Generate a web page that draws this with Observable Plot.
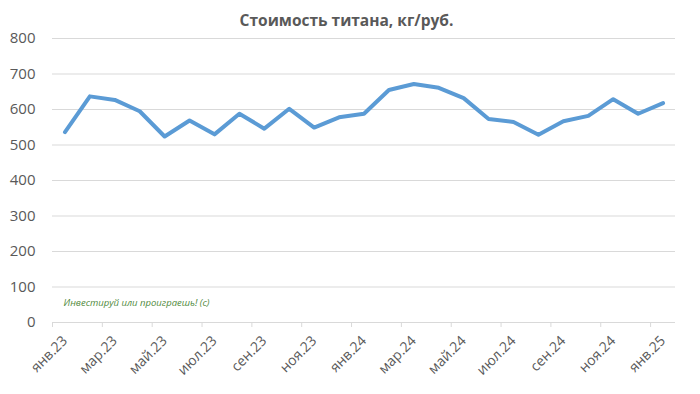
<!DOCTYPE html>
<html>
<head>
<meta charset="utf-8">
<script src="https://cdn.jsdelivr.net/npm/d3@7"></script>
<script src="https://cdn.jsdelivr.net/npm/@observablehq/plot@0.6"></script>
<style>
  body { margin: 0; background: #fff; font-family: "Open Sans", sans-serif; }
  #title { height: 22px; line-height: 22px; position: relative; top: 9px; text-align: center; padding-right: 7px;
           font-weight: bold; font-size: 15.5px; color: #595959; }
</style>
</head>
<body>
<div id="title">Стоимость титана, кг/руб.</div>
<div id="chart"></div>
<script>
const months = ["янв.23","фев.23","мар.23","апр.23","май.23","июн.23","июл.23","авг.23","сен.23","окт.23","ноя.23","дек.23",
                "янв.24","фев.24","мар.24","апр.24","май.24","июн.24","июл.24","авг.24","сен.24","окт.24","ноя.24","дек.24","янв.25"];
const prices = [536, 637, 627, 595, 524, 569, 530, 588, 546, 602, 549, 578,
                588, 655, 672, 661, 632, 573, 565, 529, 567, 582, 629, 588, 618];
const yTicks = [0, 100, 200, 300, 400, 500, 600, 700, 800];
const watermark = "Инвестируй или проиграешь! (с)";

const data = months.map((m, i) => ({i, m, v: prices[i]}));
const labelIdx = months.map((m, i) => i).filter(i => i % 2 === 0);
const edgeIdx = labelIdx.map(i => i - 0.5);

const chart = Plot.plot({
  width: 700,
  height: 372,
  marginLeft: 52,
  marginRight: 25,
  marginTop: 16,
  marginBottom: 72,
  style: {fontFamily: "Open Sans, sans-serif", color: "#595959", background: "#fff"},
  x: {domain: [-0.5, months.length - 0.5]},
  y: {domain: [0, 800]},
  marks: [
    Plot.gridY(yTicks.slice(1), {stroke: "#d9d9d9", strokeOpacity: 1, strokeWidth: 1}),
    Plot.ruleY([0], {stroke: "#d9d9d9", strokeWidth: 1}),
    Plot.axisX({ticks: edgeIdx, tickSize: 5, tickFormat: () => "", stroke: "#d9d9d9", strokeOpacity: 1, label: null}),
    Plot.axisY({ticks: yTicks, tickSize: 0, tickPadding: 17, fontSize: 15, label: null}),
    Plot.axisX({ticks: labelIdx, tickSize: 0, tickPadding: 16, tickRotate: -45, fontSize: 14,
                tickFormat: i => months[i], label: null}),
    Plot.line(data, {x: "i", y: "v", stroke: "#5b9bd5", strokeWidth: 4, strokeLinejoin: "round", strokeLinecap: "round"}),
    Plot.text([watermark], {frameAnchor: "bottom-left", dx: 11, dy: -17, text: d => d, fill: "#4f8a3c",
                fontSize: 9.5, fontStyle: "italic", textAnchor: "start"})
  ]
});
document.getElementById("chart").appendChild(chart);
</script>
</body>
</html>
